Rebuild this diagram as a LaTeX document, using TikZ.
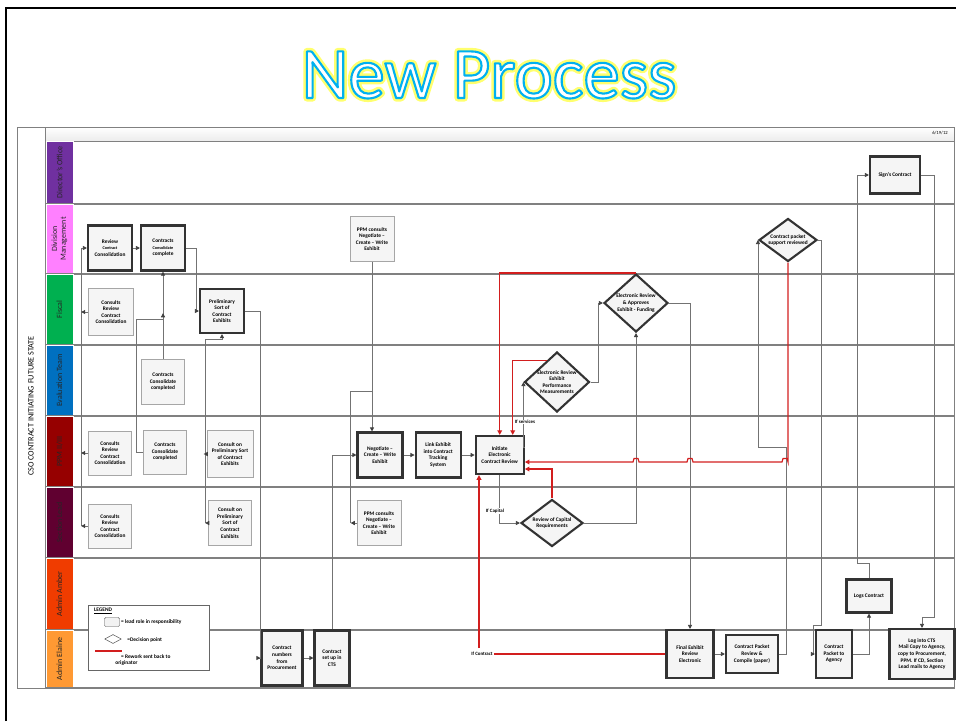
\documentclass[tikz,border=0pt]{standalone}
\usepackage{fontspec}
\setmainfont{Carlito}
\usetikzlibrary{arrows.meta,positioning,shapes,calc}
\definecolor{titleblue}{RGB}{0,176,240}
\definecolor{glowyellow}{RGB}{255,255,110}
\definecolor{dirpurple}{RGB}{112,48,160}
\definecolor{divpink}{RGB}{255,128,255}
\definecolor{fiscalgreen}{RGB}{0,176,80}
\definecolor{evalblue}{RGB}{0,112,192}
\definecolor{ppmred}{RGB}{150,0,0}
\definecolor{sectplum}{RGB}{96,0,48}
\definecolor{amberred}{RGB}{240,60,0}
\definecolor{elaineorange}{RGB}{255,153,51}
\definecolor{reworkred}{RGB}{210,30,30}
\definecolor{lanegray}{RGB}{128,128,128}
% outlined text: fill with the text colour, stroke with the given RGB and width
\newcommand{\outlined}[3]{\special{pdf:literal direct #1 RG #2 w 1 j 2 Tr}#3\special{pdf:literal direct 0 Tr}}

\begin{document}
\begin{tikzpicture}[x=0.03cm,y=-0.03cm,
    leadbox/.style={draw=black!80, line width=1.8pt, fill=gray!8, rectangle, align=center, inner sep=1pt, font=\fontsize{4.6}{5.6}\selectfont\bfseries},
    consultbox/.style={draw=gray!70, line width=0.6pt, fill=gray!8, rectangle, align=center, inner sep=1pt, font=\fontsize{4.6}{5.6}\selectfont\bfseries},
    decision/.style={diamond, draw=black!80, line width=1.8pt, fill=gray!8, align=center, inner sep=-3pt, font=\fontsize{4.6}{5.6}\selectfont\bfseries},
    flow/.style={draw=black!55, line width=0.7pt, -{Triangle[length=3.5pt,width=3.5pt,color=black!75]}},
    rework/.style={draw=reworkred, line width=1pt, -{Triangle[length=4pt,width=4pt]}},
    note/.style={fill=white, inner sep=0.5pt, font=\fontsize{4.2}{5}\selectfont\bfseries},
    lanelabel/.style={rotate=90, align=center, text=black!85, font=\fontsize{6.8}{7.4}\selectfont},
    laneline/.style={draw=lanegray, line width=0.9pt}]
    \useasboundingbox (0,0) rectangle (956,721);

    % Slide frame and title
    \draw[line width=2.5pt] (6,721) -- (6,8) -- (956,8);
    \node[text=glowyellow, font=\fontsize{62}{62}\selectfont] (titleglow) at (489,75) {\outlined{1 1 0.43}{6}{New Process}};
    \node[text=white, font=\fontsize{62}{62}\selectfont] (title) at (489,75) {\outlined{0 0.69 0.94}{1.8}{New Process}};

    % Chart frame
    \draw[draw=lanegray, top color=white, bottom color=gray!15] (45,127) rectangle (954,141);
    \draw[draw=lanegray, line width=0.8pt] (17,127) rectangle (954,688);
    \draw[draw=lanegray, line width=0.8pt] (45,127) -- (45,688);
    \node[font=\fontsize{4}{5}\selectfont] (date) at (940,133) {6/19/12};
    \node[rotate=90, font=\fontsize{7}{8}\selectfont] (chartname) at (31,406) {CSO CONTRACT INITIATING FUTURE STATE};

    % Swim lanes
    \foreach \ya/\yb/\fillc/\lanetext in {141/204/dirpurple/{Director's Office}, 204/274/divpink/{Division\\Management}, 274/345/fiscalgreen/Fiscal, 345/416/evalblue/{Evaluation Team}, 416/487/ppmred/{PPM II/III}, 487/558/sectplum/{Section Lead}, 558/630/amberred/{Admin Amber}, 630/688/elaineorange/{Admin Elaine}} {
        \fill[\fillc, draw=white] (46,\ya) rectangle (73,\yb);
        \node[lanelabel] (lane\ya) at (59.5,{(\ya+\yb)/2}) {\lanetext};
        \draw[laneline] (46,\yb) -- (954,\yb);
    }

    % Director's Office
    \node[leadbox, minimum width=1.5cm, minimum height=1.11cm] (signs) at (895,175) {Sign's Contract};

    % Division Management
    \node[leadbox, minimum width=1.32cm, minimum height=1.35cm] (review) at (110,248) {Review\\{\fontsize{3.6}{4.6}\selectfont Contract}\\Consolidation};
    \node[leadbox, minimum width=1.32cm, minimum height=1.35cm] (consol) at (163,248) {Contracts\\{\fontsize{3.6}{4.6}\selectfont Consolidate}\\complete};
    \node[consultbox, minimum width=1.32cm, minimum height=1.35cm] (ppmtop) at (372,239) {PPM consults\\Negotiate --\\Create -- Write\\Exhibit};
    \node[decision, minimum width=1.74cm, minimum height=1.29cm] (pkt) at (788,240) {Contract packet\\support reviewed};

    % Fiscal
    \node[consultbox, minimum width=1.35cm, minimum height=1.41cm] (fcons) at (111,312) {Consults\\Review\\Contract\\Consolidation};
    \node[leadbox, minimum width=1.32cm, minimum height=1.32cm] (prelim) at (222,311) {Preliminary\\Sort of\\Contract\\Exhibits};
    \node[decision, minimum width=1.92cm, minimum height=1.74cm] (fund) at (636,303) {Electronic Review\\\& Approves\\Exhibit - Funding};

    % Evaluation Team
    \node[consultbox, minimum width=1.29cm, minimum height=1.35cm] (cceval) at (163,382) {Contracts\\Consolidate\\completed};
    \node[decision, minimum width=1.95cm, minimum height=1.8cm] (perf) at (557,382) {Electronic Review\\Exhibit\\Performance\\Measurements};

    % PPM II/III
    \node[consultbox, minimum width=1.29cm, minimum height=1.32cm] (pcons) at (110,453) {Consults\\Review\\Contract\\Consolidation};
    \node[consultbox, minimum width=1.29cm, minimum height=1.32cm] (ccppm) at (165,452) {Contracts\\Consolidate\\completed};
    \node[consultbox, minimum width=1.38cm, minimum height=1.41cm] (pprelim) at (230,454) {Consult on\\Preliminary Sort\\of Contract\\Exhibits};
    \node[leadbox, minimum width=1.35cm, minimum height=1.35cm] (nego) at (380,455) {Negotiate --\\Create -- Write\\Exhibit};
    \node[leadbox, minimum width=1.35cm, minimum height=1.35cm, right=0.33cm of nego] (link) {Link Exhibit\\into Contract\\Tracking\\System};
    \node[leadbox, minimum width=1.44cm, minimum height=1.14cm, right=0.39cm of link] (init) {Initiate\\Electronic\\Contract Review};

    % Section Lead
    \node[consultbox, minimum width=1.29cm, minimum height=1.32cm] (scons) at (110,526) {Consults\\Review\\Contract\\Consolidation};
    \node[consultbox, minimum width=1.29cm, minimum height=1.35cm] (sprelim) at (230,523) {Consult on\\Preliminary\\Sort of\\Contract\\Exhibits};
    \node[consultbox, minimum width=1.32cm, minimum height=1.35cm] (sppm) at (379,523) {PPM consults\\Negotiate --\\Create -- Write\\Exhibit};
    \node[decision, minimum width=1.86cm, minimum height=1.41cm] (capital) at (552,523) {Review of Capital\\Requirements};

    % Admin Amber
    \node[leadbox, minimum width=1.35cm, minimum height=0.99cm] (logs) at (869,596) {Logs Contract};

    % Admin Elaine
    \node[leadbox, minimum width=1.23cm, minimum height=1.65cm] (cnum) at (282,658) {Contract\\numbers\\from\\Procurement};
    \node[leadbox, minimum width=1.05cm, minimum height=1.65cm] (cts) at (332,658) {Contract\\set up in\\CTS};
    \node[leadbox, minimum width=1.41cm, minimum height=1.44cm] (final) at (690,654) {Final Exhibit\\Review\\Electronic};
    \node[leadbox, minimum width=1.56cm, minimum height=1.14cm] (cpr) at (752,654) {Contract Packet\\Review \&\\Compile (paper)};
    \node[leadbox, minimum width=1.08cm, minimum height=1.44cm] (agency) at (834,654) {Contract\\Packet to\\Agency};
    \node[leadbox, minimum width=1.95cm, minimum height=1.5cm] (logcts) at (922,654) {Log into CTS\\Mail Copy to Agency,\\copy to Procurement,\\PPM. If CD, Section\\Lead mails to Agency};

    % Legend
    \node[draw=black!60, fill=white, minimum width=3.63cm, minimum height=1.95cm] (legend) at (148.5,637.5) {};
    \node[anchor=west, font=\fontsize{4.6}{5}\selectfont\bfseries] (legendtitle) at (90,611) {\underline{LEGEND}};
    \node[draw=black!70, fill=gray!10, rounded corners=1pt, minimum width=0.45cm, minimum height=0.27cm] (legendbox) at (112,622) {};
    \node[anchor=west, inner sep=1pt, font=\fontsize{4.6}{5}\selectfont\bfseries] (legendboxtxt) at (legendbox.east) {= lead role in responsibility};
    \node[diamond, draw=black!70, fill=white, minimum width=0.5cm, minimum height=0.27cm, inner sep=0pt] (legenddia) at (113,639) {};
    \node[anchor=west, inner sep=1pt, font=\fontsize{4.6}{5}\selectfont\bfseries] (legenddiatxt) at (126,640) {=Decision point};
    \coordinate (legendred) at (95,651);
    \draw[draw=reworkred, line width=1.3pt] (legendred) -- ++(27,0);
    \node[anchor=north west, align=left, inner sep=1pt, font=\fontsize{4.6}{5.6}\selectfont\bfseries] (legendredtxt) at (114,653) {\hspace{2.2ex}= Rework sent back to\\originator};

    % Connectors
    \draw[flow] (review) -- (consol);
    \draw[flow] ($(scons.west)+(-7,0)$) |- (review.west);
    \draw[flow] (fcons.west) -- ++(-7,0);
    \draw[flow] (pcons.west) -- ++(-7,0);
    \draw[flow] (scons.west) -- ++(-7,0);
    \draw[flow] (cceval.north) -- (consol.south);
    \draw[flow] (ccppm.west) -- ++(-7,0) |- ($(cceval.north)+(0,-40)$) -- ++(0,-6);
    \draw[flow] (consol.east) -- ++(10,0) |- (prelim.west);
    \draw[flow] ($(sprelim.west)+(-3,0)$) |- ($(prelim.south)+(0,5)$) -- (prelim.south);
    \draw[flow] (pprelim.west) -- ++(-3,0);
    \draw[flow] (sprelim.west) -- ++(-3,0);
    \draw[flow] (prelim.east) -- ++(15,0) |- (cnum.west);
    \draw[flow] (cnum) -- (cts);
    \draw[flow] (cts.north) |- (nego.west);
    \draw[flow] (ppmtop.south) -- (ppmtop.south |- nego.north);
    \draw[draw=black!55, line width=0.7pt] ($(ppmtop.south)+(0,130)$) -| ($(sppm.west)+(-6,0)$);
    \draw[flow] (sppm.west) -- ++(-6,0);
    \draw[flow] (nego) -- (link);
    \draw[flow] (link) -- (init);
    \draw[flow] ($(init.east)+(0,-8)$) -| (perf.west);
    \node[note] (ifservices) at (525,422) {If services};
    \draw[flow] (init.south) |- (capital.west);
    \node[note] (ifcapital) at (495,511) {If Capital};
    \draw[flow] (perf.east) -- ++(8,0) |- (fund.west);
    \draw[flow] (fund.east) -| (final.north);
    \draw[flow] (capital.east) -| (fund.south);
    \draw[flow] (final) -- (cpr);
    \draw[flow] (cpr.east) -- ++(7,0) -- ++(0,-207) -| (pkt.west);
    \draw[flow] (pkt.east) -- ++(3,0) -- ++(0,385) -- ++(-8,0) |- (agency.west);
    \draw[flow] (agency.east) -| (logs.south);
    \draw[flow] (logs.north) -- ++(0,-15) -- ++(-12,0) |- (signs.west);
    \draw[flow] (signs.east) -- ++(13,0) -- ++(0,442) -| (logcts.north);

    % Rework sent back
    \draw[rework] (fund.north) -| (init.north);
    \draw[rework] ($(perf.north)!0.3!(perf.west)$) -| ($(init.north)+(13,0)$);
    \draw[rework] (pkt.south) -- (788,462) foreach \h in {785,690,636} { -- ({\h+3},462) -- ({\h+2},458.5) -- ({\h-2},458.5) -- ({\h-3},462) } -- ($(init.east)+(0,7)$);
    \draw[rework] (capital.north) |- ($(init.east)+(0,14)$);
    \node[note, fill=none] (ifcontract) at (482,654) {If Contract};
    \draw[draw=reworkred, line width=1pt] (final.west) -- (ifcontract.east);
    \coordinate (contractup) at (479,648);
    \draw[rework] (contractup) -- (contractup |- init.south);
\end{tikzpicture}
\end{document}
